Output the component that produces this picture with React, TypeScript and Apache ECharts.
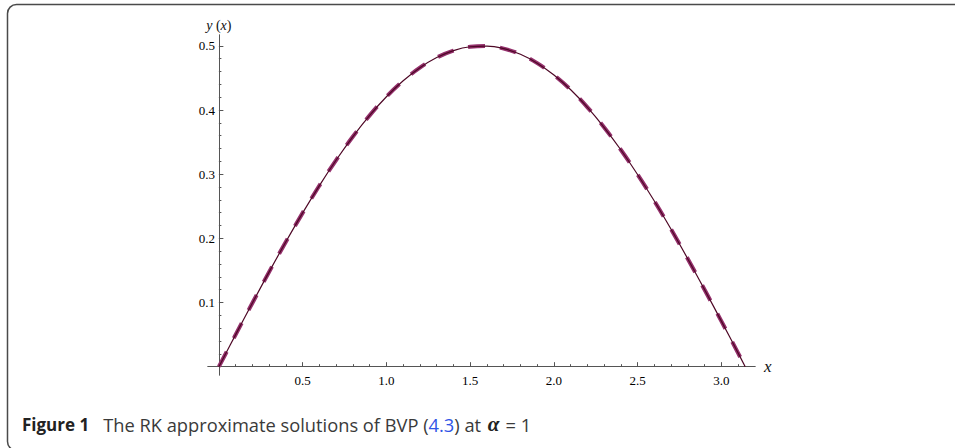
import React, { useEffect, useRef } from "react";
import * as echarts from "echarts";

// x positions
const xValues = [
  0, 0.1, 0.2, 0.3, 0.4, 0.5, 0.6, 0.7, 0.8, 0.9, 1.0, 1.1, 1.2, 1.3, 1.4, 1.5,
  1.6, 1.7, 1.8, 1.9, 2.0, 2.1, 2.2, 2.3, 2.4, 2.5, 2.6, 2.7, 2.8, 2.9, 3.0,
  3.1, 3.1416,
];
// solid curve (exact solution)
const exactY = [
  0, 0.0499, 0.0993, 0.1478, 0.1947, 0.2397, 0.2823, 0.3221, 0.3587, 0.3917,
  0.4207, 0.4456, 0.466, 0.4818, 0.4927, 0.4987, 0.4998, 0.4958, 0.4869, 0.4731,
  0.4546, 0.4316, 0.4042, 0.3728, 0.3377, 0.2992, 0.2578, 0.2137, 0.1675,
  0.1196, 0.0706, 0.0208, 0,
];
// dashed curve (RK approximation)
const rkY = [
  0, 0.0499, 0.0993, 0.1478, 0.1947, 0.2397, 0.2823, 0.3221, 0.3587, 0.3917,
  0.4207, 0.4456, 0.466, 0.4818, 0.4927, 0.4987, 0.4998, 0.4958, 0.4869, 0.4731,
  0.4546, 0.4316, 0.4042, 0.3728, 0.3377, 0.2992, 0.2578, 0.2137, 0.1675,
  0.1196, 0.0706, 0.0208, 0,
];

const xMajorTicks = [0.5, 1.0, 1.5, 2.0, 2.5, 3.0];
const xMinorTicks = [
  0.1, 0.2, 0.3, 0.4, 0.6, 0.7, 0.8, 0.9, 1.1, 1.2, 1.3, 1.4, 1.6, 1.7, 1.8,
  1.9, 2.1, 2.2, 2.3, 2.4, 2.6, 2.7, 2.8, 2.9, 3.1,
];
const yMajorTicks = [0.1, 0.2, 0.3, 0.4, 0.5];
const yMinorTicks = [
  0.02, 0.04, 0.06, 0.08, 0.12, 0.14, 0.16, 0.18, 0.22, 0.24, 0.26, 0.28, 0.32,
  0.34, 0.36, 0.38, 0.42, 0.44, 0.46, 0.48,
];

const X_MIN = -0.065;
const X_MAX = 3.2;
const Y_MIN = -0.013;
const Y_MAX = 0.517;

const AXIS_COLOR = "#555555";
const SERIF = "'Liberation Serif', 'DejaVu Serif', serif";
const SANS = "'Open Sans', 'Noto Sans', sans-serif";

export default function App() {
  const ref = useRef<HTMLDivElement>(null);

  useEffect(() => {
    if (!ref.current) return;
    const chart = echarts.init(ref.current, null, { renderer: "svg" });

    const gridBox = { left: 208, top: 35, width: 547, height: 340 };

    const makeX = (gridIndex: number, ticks: number[], len: number, labels: boolean) => ({
      type: "value",
      gridIndex,
      min: X_MIN,
      max: X_MAX,
      position: "bottom",
      name: labels ? "x" : "",
      nameLocation: "end",
      nameGap: 9,
      nameTextStyle: {
        fontFamily: SERIF,
        fontStyle: "italic",
        fontSize: 17,
        color: "#111",
      },
      axisLine: { show: true, onZero: true, lineStyle: { color: AXIS_COLOR, width: 1 } },
      axisTick: {
        show: true,
        inside: true,
        length: len,
        customValues: ticks,
        lineStyle: { color: AXIS_COLOR, width: 1 },
      },
      axisLabel: {
        show: labels,
        customValues: labels ? xMajorTicks : [],
        margin: -1,
        fontFamily: SERIF,
        fontSize: 13,
        color: "#000",
        formatter: (v: number) => v.toFixed(1),
      },
      splitLine: { show: false },
    });

    const makeY = (gridIndex: number, ticks: number[], len: number, labels: boolean) => ({
      type: "value",
      gridIndex,
      min: Y_MIN,
      max: Y_MAX,
      position: "left",
      name: labels ? "{i|y} ({i|x})" : "",
      nameLocation: "end",
      nameGap: 3,
      nameTextStyle: {
        fontFamily: SERIF,
        fontSize: 14,
        color: "#111",
        rich: {
          i: { fontFamily: SERIF, fontStyle: "italic", fontSize: 14, color: "#111" },
        },
      },
      axisLine: { show: true, onZero: true, lineStyle: { color: AXIS_COLOR, width: 1 } },
      axisTick: {
        show: true,
        inside: true,
        length: len,
        customValues: ticks,
        lineStyle: { color: AXIS_COLOR, width: 1 },
      },
      axisLabel: {
        show: labels,
        customValues: labels ? yMajorTicks : [],
        margin: -7,
        fontFamily: SERIF,
        fontSize: 13,
        color: "#000",
        formatter: (v: number) => v.toFixed(1),
      },
      splitLine: { show: false },
    });

    const exactData = xValues.map((x, i) => [x, exactY[i]]);
    const rkData = xValues.map((x, i) => [x, rkY[i]]);

    chart.setOption({
      animation: false,
      backgroundColor: "#ffffff",
      grid: [
        { ...gridBox, containLabel: false },
        { ...gridBox, containLabel: false },
      ],
      xAxis: [makeX(0, xMajorTicks, 4.5, true), makeX(1, xMinorTicks, 2.5, false)],
      yAxis: [makeY(0, yMajorTicks, 4.5, true), makeY(1, yMinorTicks, 2.5, false)],
      series: [
        {
          name: "RK",
          type: "line",
          xAxisIndex: 0,
          yAxisIndex: 0,
          data: rkData,
          smooth: 0.4,
          showSymbol: false,
          z: 3,
          lineStyle: {
            color: "#94306c",
            width: 4,
            type: [17, 15],
            cap: "butt",
          },
        },
        {
          name: "exact",
          type: "line",
          xAxisIndex: 0,
          yAxisIndex: 0,
          data: exactData,
          smooth: 0.4,
          showSymbol: false,
          z: 4,
          lineStyle: { color: "#4e0826", width: 1.2 },
        },
      ],
      graphic: [
        {
          type: "rect",
          shape: { x: 7.5, y: 4.5, width: 1100, height: 446, r: 9 },
          style: { fill: "none", stroke: "#4a4a4a", lineWidth: 1.5 },
          silent: true,
          z: 0,
        },
        {
          type: "text",
          x: 22,
          y: 424,
          style: {
            text:
              "{b|Figure 1}{t|The RK approximate solutions of BVP (}{blue|4.3}{t|) at }{m|α}{t|= 1}",
            verticalAlign: "middle",
            fill: "#333",
            rich: {
              b: {
                fontFamily: SANS,
                fontWeight: "bold",
                fontSize: 17,
                fill: "#222",
                padding: [0, 14, 0, 0],
              },
              t: {
                fontFamily: SANS,
                fontSize: 18.3,
                fill: "#3a3a3a",
              },
              blue: {
                fontFamily: SANS,
                fontSize: 18.3,
                fill: "#2f55e6",
              },
              m: {
                fontFamily: SERIF,
                fontStyle: "italic",
                fontWeight: "bold",
                fontSize: 21,
                fill: "#222",
                padding: [0, 6, 0, 2],
              },
            },
          },
          z: 10,
        },
      ],
    });

    return () => chart.dispose();
  }, []);

  return (
    <div
      ref={ref}
      style={{ position: "absolute", left: 0, top: 0, width: 955, height: 448 }}
    />
  );
}
